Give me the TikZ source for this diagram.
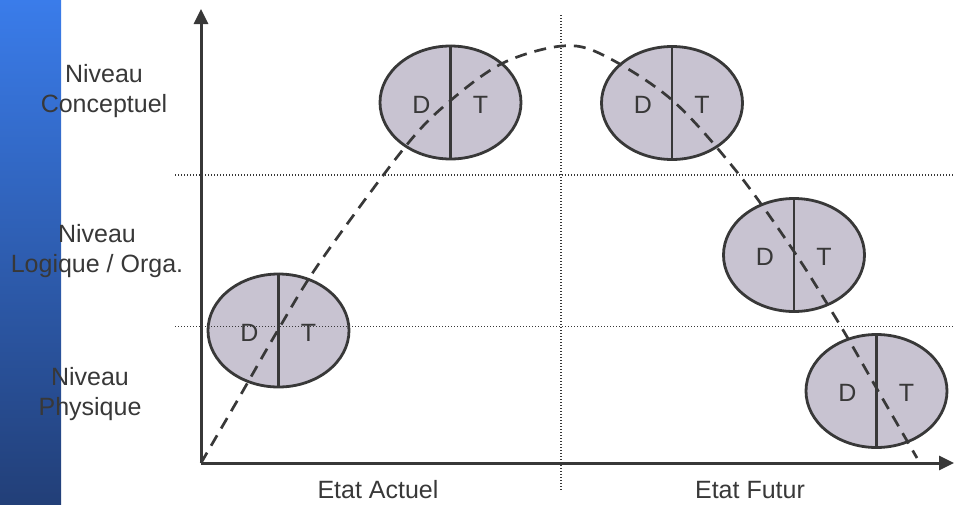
\documentclass[tikz,border=0pt]{standalone}
\usepackage{fontspec}
\setmainfont{Liberation Sans}
\usetikzlibrary{arrows.meta,shapes.geometric}
\definecolor{ink}{HTML}{383838}
\definecolor{cellfill}{HTML}{C8C3D1}
\definecolor{bartop}{HTML}{3A7CEA}
\definecolor{barbot}{HTML}{223F78}
\tikzset{
  cell/.style={ellipse, draw=ink, line width=2.8pt, fill=cellfill, minimum width=141pt, minimum height=113pt, inner sep=0pt},
  lbl/.style={text=ink, font=\fontsize{25}{30}\selectfont, inner sep=0pt, align=center},
  axis/.style={draw=ink, line width=3pt, -{Triangle[length=15pt,width=14pt]}},
  grid/.style={draw=ink, line width=1.4pt, dash pattern=on 1.4pt off 1.6pt},
  curve/.style={draw=ink, line width=2.7pt, dash pattern=on 12pt off 8pt}
}
\begin{document}
\begin{tikzpicture}[x=1pt,y=-1pt]
\useasboundingbox (0,0) rectangle (954,504);
\shade[top color=bartop, bottom color=barbot] (0,0) rectangle (61,504);

% labels on left
\node[lbl] (lc) at (104,91) {Niveau\\Conceptuel};
\node[lbl] (ll) at (97,251) {Niveau\\Logique / Orga.};
\node[lbl] (lp) at (90,394) {Niveau\\Physique};

% vertical dotted separator
\coordinate (vt) at (561,15);
\coordinate (vb) at (561,490);
\draw[grid] (vt) -- (vb);

% ellipses
\node[cell] (e1) at (278.5,330.5) {};
\node[cell] (e2) at (450.5,102.5) {};
\node[cell] (e3) at (672,103) {};
\node[cell] (e4) at (794,255) {};
\node[cell] (e5) at (876.5,391) {};
\foreach \e in {e1,e2,e3,e4,e5}{
  \draw[ink, line width=2.8pt] (\e.north) -- (\e.south);
  \node[lbl] at ([xshift=-29pt,yshift=-2pt]\e.center) {D};
  \node[lbl] at ([xshift=30pt,yshift=-2pt]\e.center) {T};
}

% horizontal dotted lines
\coordinate (h1a) at (175,175);
\coordinate (h1b) at (954,175);
\coordinate (h2a) at (175,326.5);
\coordinate (h2b) at (954,326.5);
\draw[grid] (h1a) -- (h1b);
\draw[grid] (h2a) -- (h2b);

% axes
\coordinate (o) at (201,463);
\coordinate (ytop) at (201,9);
\coordinate (xend) at (954,463);
\draw[axis] (o) -- (ytop);
\draw[axis] (o) -- (xend);

% dashed curve
\draw[curve] plot[smooth, tension=0.55] coordinates {(201,463) (240,396) (278,330) (320,262) (405,147) (450,101) (503,63) (562,46) (603,55) (672,100) (737,172) (795,253) (840,325) (877,389) (917,458)};

% bottom labels
\node[lbl] (ea) at (378,490) {Etat Actuel};
\node[lbl] (ef) at (750,490) {Etat Futur};
\end{tikzpicture}
\end{document}
